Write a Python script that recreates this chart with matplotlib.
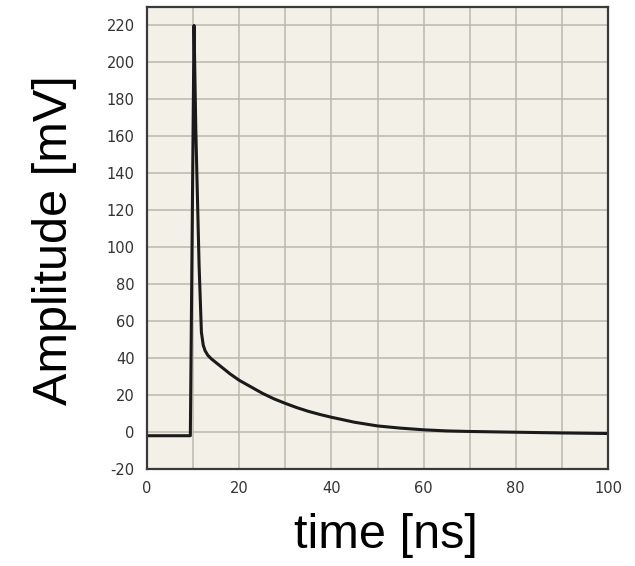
import matplotlib
matplotlib.use('Agg')
import matplotlib.pyplot as plt

plt.rcParams['axes.unicode_minus'] = False

# pulse shape
time_ns = [0, 9.4, 10.2, 10.6, 11.3, 11.8, 12.2, 12.6, 13.2, 14, 16, 18, 20, 22.5, 25, 27.5, 30, 32.5, 35,
           37.5, 40, 45, 50, 55, 60, 65, 70, 80, 90, 100]
amplitude_mv = [-2, -2, 220, 162, 90, 54, 47, 44, 41.5, 39.5, 35.5, 31.5, 28, 24.5, 21, 18, 15.5, 13.2, 11.2,
                9.5, 8, 5.3, 3.3, 2.1, 1.2, 0.6, 0.3, -0.1, -0.5, -0.8]

x_ticks = [0, 20, 40, 60, 80, 100]
y_ticks = list(range(-20, 221, 20))

fig = plt.figure(figsize=(6.35, 5.66), dpi=100)
ax = fig.add_axes([0.2315, 0.1714, 0.726, 0.8163])
ax.set_facecolor('#f3f0e8')

ax.plot(time_ns, amplitude_mv, color='#1a1a1a', linewidth=2.2, solid_joinstyle='round')

ax.set_xlim(0, 100)
ax.set_ylim(-20, 230)
ax.set_xticks(x_ticks)
ax.set_xticks(range(0, 101, 10), minor=True)
ax.set_yticks(y_ticks)
ax.grid(True, which='both', color='#bab7ad', linewidth=1.1)
ax.set_axisbelow(True)
ax.tick_params(which='both', length=0, labelsize=10.5, labelcolor='#333333', pad=9)

for s in ax.spines.values():
    s.set_color('#3a3a3a')
    s.set_linewidth(1.6)

fig.text(55 / 635, 1 - 240 / 566, 'Amplitude [mV]', rotation=90, ha='center', va='center',
         fontsize=35, family='Liberation Sans')
fig.text(386 / 635, 1 - 535 / 566, 'time [ns]', ha='center', va='center',
         fontsize=35, family='Liberation Sans')

fig.savefig('out.png', dpi=100)
